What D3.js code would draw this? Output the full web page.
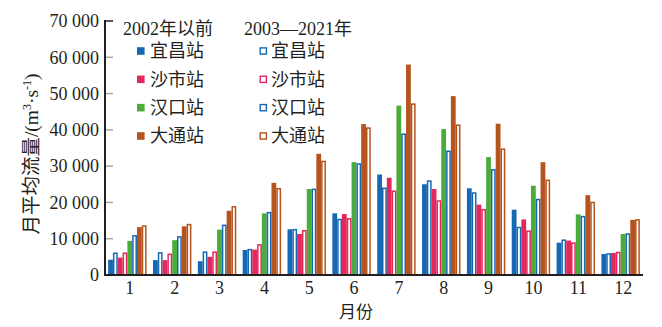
<!DOCTYPE html>
<html><head><meta charset="utf-8">
<script src="https://cdn.jsdelivr.net/npm/d3@7"></script>
<style>
html,body{margin:0;padding:0;background:#fff;}
text{font-family:"Liberation Serif","Noto Sans CJK SC",serif;fill:#231f20;}
</style></head>
<body><svg id="c" width="662" height="327"></svg>
<script>
const months = ["1","2","3","4","5","6","7","8","9","10","11","12"];
const yTicks = [0,10000,20000,30000,40000,50000,60000,70000];
const stations = ["宜昌站","沙市站","汉口站","大通站"];
const yichangPre  = [4200,4100,3800,6900,12600,17000,27700,25000,23900,18000,8900,5800];
const yichangPost = [6200,6300,6500,7200,12700,15500,24100,26100,22800,13300,9800,6000];
const shashiPre   = [4800,4100,5000,7000,11300,16800,26800,23700,19400,15300,9500,6100];
const shashiPost  = [6200,5900,6500,8500,12400,15700,23300,20600,18200,12300,9000,6400];
const hankouPre   = [9400,9600,12500,17000,23700,31100,46700,40200,32500,24600,16700,11300];
const hankouPost  = [11000,10700,13900,17400,23800,30800,39000,34300,29200,21000,16300,11500];
const datongPre   = [13200,13400,17700,25400,33400,41600,58000,49300,41700,31100,22000,15200];
const datongPost  = [13700,14100,19000,24000,31500,40700,47300,41500,34900,26300,20200,15400];

const BLUE="#1768b3", RED="#e5285c", GREEN="#4dab3c", BROWN="#b5541f";
const series = [
  {name:"宜昌站", period:"pre",  color:BLUE,  values:yichangPre},
  {name:"宜昌站", period:"post", color:BLUE,  values:yichangPost},
  {name:"沙市站", period:"pre",  color:RED,   values:shashiPre},
  {name:"沙市站", period:"post", color:RED,   values:shashiPost},
  {name:"汉口站", period:"pre",  color:GREEN, values:hankouPre},
  {name:"汉口站", period:"post", color:BLUE,  values:hankouPost},
  {name:"大通站", period:"pre",  color:BROWN, values:datongPre},
  {name:"大通站", period:"post", color:BROWN, values:datongPost}
];

const svg = d3.select("#c");
const x0 = d3.scaleBand().domain(months).range([105,643]).paddingInner(0.143).paddingOuter(0.07);
const x1 = d3.scaleBand().domain(d3.range(series.length)).range([0,x0.bandwidth()]);
const y = d3.scaleLinear().domain([0,70000]).range([275,21]);

// bars
const g = svg.append("g");
series.forEach((s,i)=>{
  g.selectAll(null).data(s.values).enter().append("rect")
    .attr("x",(d,j)=> x0(months[j]) + x1(i) + (s.period==="post"?0.75:0))
    .attr("y",d=> y(d) + (s.period==="post"?0.75:0))
    .attr("width", x1.bandwidth() - (s.period==="post"?1.5:0))
    .attr("height",d=> y(0)-y(d) - (s.period==="post"?0.75:0))
    .attr("fill", s.period==="post" ? "#fff" : s.color)
    .attr("stroke", s.period==="post" ? s.color : "none")
    .attr("stroke-width",1.5);
});

// y axis
const fmt = v => v===0 ? "0" : d3.format(",")(v).replace(/,/g," ");
const yAxis = svg.append("g");
yAxis.selectAll("line.t").data(yTicks.filter(v=>v>0)).enter().append("line")
  .attr("x1",105).attr("x2",113).attr("y1",d=>y(d)).attr("y2",d=>y(d))
  .attr("stroke",d=> d===70000 ? "#231f20" : "#a7a7a7").attr("stroke-width",1.5);
yAxis.selectAll("text").data(yTicks).enter().append("text")
  .attr("x",99).attr("y",d=>y(d)).attr("dy","0.35em").attr("text-anchor","end")
  .attr("font-size",18).text(fmt);
svg.append("line").attr("x1",105).attr("x2",105).attr("y1",20).attr("y2",276)
  .attr("stroke","#231f20").attr("stroke-width",2);
svg.append("line").attr("x1",104).attr("x2",643).attr("y1",275).attr("y2",275)
  .attr("stroke","#231f20").attr("stroke-width",2);

// x labels
svg.selectAll("text.m").data(months).enter().append("text")
  .attr("x",d=> x0(d)+x0.bandwidth()/2+2.5).attr("y",294).attr("text-anchor","middle")
  .attr("font-size",18).text(d=>d);
svg.append("text").attr("x",356).attr("y",318).attr("text-anchor","middle")
  .attr("font-size",17).text("月份");

// y label
const yl = svg.append("text").attr("transform","translate(38,154) rotate(-90)")
  .attr("text-anchor","middle").attr("font-size",19.5);
yl.append("tspan").text("月平均流量/(m");
yl.append("tspan").attr("font-size",12).attr("dy",-7).text("3");
yl.append("tspan").attr("dy",7).text("·s");
yl.append("tspan").attr("font-size",12).attr("dy",-7).text("-1");
yl.append("tspan").attr("dy",7).text(")");

// legend
svg.append("text").attr("x",123).attr("y",35).attr("font-size",18).text("2002年以前");
svg.append("text").attr("x",244).attr("y",35).attr("font-size",18).text("2003—2021年");
const rowY = d3.scalePoint().domain(stations).range([51,136]);
series.forEach((s,i)=>{
  const col = s.period==="pre" ? 0 : 1;
  const sx = col===0 ? 137 : 259.5;
  const cy = rowY(s.name);
  svg.append("rect").attr("x", sx + (col?0.7:0)).attr("y", cy-3.8 + (col?0.7:0))
    .attr("width", col?6.2:7.6).attr("height", col?6.2:7.6)
    .attr("fill", col ? "#fff" : s.color).attr("stroke", col ? s.color : "none").attr("stroke-width",1.4);
  svg.append("text").attr("x", col ? 271 : 150).attr("y", cy).attr("dy","0.36em")
    .attr("font-size",18).text(s.name);
});
</script></body></html>
